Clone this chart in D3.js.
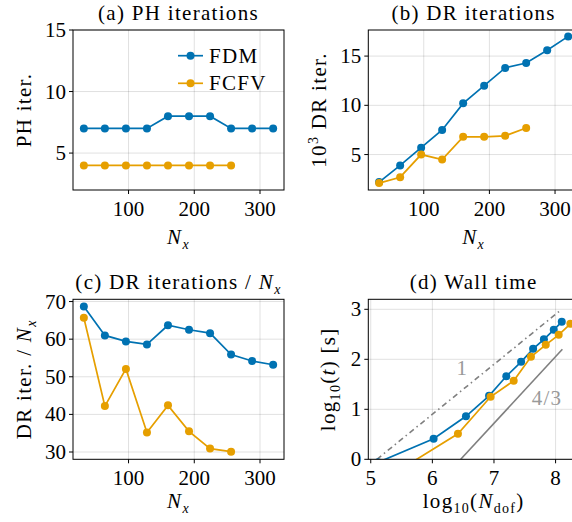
<!DOCTYPE html>
<html>
<head>
<meta charset="utf-8">
<script src="https://cdn.jsdelivr.net/npm/d3@7"></script>
<style>
  body { margin: 0; background: #fff; }
  svg { display: block; }
</style>
</head>
<body>
<div id="chart"></div>
<script>
// --- data ---
const Nx = [32, 64, 96, 128, 160, 192, 224, 256, 288, 320];
const NxFCFV = [32, 64, 96, 128, 160, 192, 224, 256];

const phFDM = [7, 7, 7, 7, 8, 8, 8, 7, 7, 7];
const phFCFV = [4, 4, 4, 4, 4, 4, 4, 4];

const drFDM = [2.2, 3.9, 5.7, 7.5, 10.2, 12.0, 13.8, 14.3, 15.6, 17.0];
const drFCFV = [2.1, 2.7, 5.0, 4.5, 6.8, 6.8, 6.9, 7.7];

const drPerNxFDM = [68.7, 61.0, 59.4, 58.6, 63.7, 62.5, 61.6, 55.9, 54.2, 53.2];
const drPerNxFCFV = [65.7, 42.2, 52.1, 35.2, 42.4, 35.5, 30.9, 30.1];

const logDofFDM = [5.12, 6.02, 6.545, 6.92, 7.20, 7.44, 7.635, 7.81, 7.97, 8.10];
const logTimeFDM = [-0.06, 0.41, 0.86, 1.27, 1.66, 1.95, 2.21, 2.40, 2.59, 2.75];
const logDofFCFV = [5.51, 6.415, 6.945, 7.32, 7.60, 7.84, 8.05, 8.24];
const logTimeFCFV = [-0.18, 0.51, 1.25, 1.57, 2.05, 2.29, 2.49, 2.71];

// reference slopes in (d)
const slope1X = [5.1, 8.1], slope1Y = [0, 3.0];
const slope43X = [6.46, 8.11], slope43Y = [0, 2.2];

const nxTicks = [100, 200, 300];
const phTicks = [5, 10, 15];
const drTicks = [5, 10, 15];
const perNxTicks = [30, 40, 50, 60, 70];
const dofTicks = [5, 6, 7, 8];
const timeTicks = [0, 1, 2, 3];

const BLUE = "#0072B2", ORANGE = "#E69F00";
const FONT = "Liberation Serif";
const FS = 21, SUB = 14, LS = "1.3px";

const svg = d3.select("#chart").append("svg")
    .attr("width", 572).attr("height", 522);

function rich(text, parts) {
    let shift = 0;
    parts.forEach(p => {
        const ts = text.append("tspan").text(p.t);
        const target = p.sub ? 5 : p.sup ? -8 : 0;
        if (target !== shift) { ts.attr("dy", target - shift); shift = target; }
        if (p.sub || p.sup) ts.attr("font-size", SUB);
        if (p.it) ts.attr("font-style", "italic");
    });
    return text;
}

const NxLabel = [{t: "N", it: true}, {t: "x", it: true, sub: true}];

const panels = [
    {id: "a", box: [73, 30, 284, 190], xd: [15.5, 336.5], yd: [2, 15],
     xt: nxTicks, yt: phTicks, title: [{t: "(a) PH iterations"}],
     xl: NxLabel, yl: [{t: "PH iter."}], ylx: 31, tby: 20, xlby: 244,
     series: [[Nx, phFDM, BLUE], [NxFCFV, phFCFV, ORANGE]]},
    {id: "b", box: [368.3, 30, 579, 190], xd: [15.5, 336.5], yd: [1.4, 17.65],
     xt: nxTicks, yt: drTicks, title: [{t: "(b) DR iterations"}],
     xl: NxLabel, yl: [{t: "10"}, {t: "3", sup: true}, {t: " DR iter."}], ylx: 326, tby: 20, xlby: 244,
     series: [[Nx, drFDM, BLUE], [NxFCFV, drFCFV, ORANGE]]},
    {id: "c", box: [73, 299.3, 284, 459.3], xd: [15.5, 336.5], yd: [28.06, 70.6],
     xt: nxTicks, yt: perNxTicks, title: [{t: "(c) DR iterations / "}].concat(NxLabel),
     xl: NxLabel, yl: [{t: "DR iter. / "}].concat(NxLabel), ylx: 31, tby: 289, xlby: 508,
     series: [[Nx, drPerNxFDM, BLUE], [NxFCFV, drPerNxFCFV, ORANGE]]},
    {id: "d", box: [368.3, 299.3, 579, 459.3], xd: [4.96, 8.38], yd: [0, 3.2],
     xt: dofTicks, yt: timeTicks, title: [{t: "(d) Wall time"}],
     xl: [{t: "log"}, {t: "10", sub: true}, {t: "("}, {t: "N", it: true}, {t: "dof", sub: true}, {t: ")"}],
     yl: [{t: "log"}, {t: "10", sub: true}, {t: "("}, {t: "t", it: true}, {t: ") [s]"}], ylx: 335, tby: 289, xlby: 508,
     series: [[logDofFDM, logTimeFDM, BLUE], [logDofFCFV, logTimeFCFV, ORANGE]]}
];

panels.forEach(p => {
    const [x0, y0, x1, y1] = p.box;
    const x = d3.scaleLinear().domain(p.xd).range([x0, x1]);
    const y = d3.scaleLinear().domain(p.yd).range([y1, y0]);
    const g = svg.append("g");

    g.append("clipPath").attr("id", "clip-" + p.id)
        .append("rect").attr("x", x0).attr("y", y0).attr("width", x1 - x0).attr("height", y1 - y0);

    // grid
    g.append("g").selectAll("line").data(p.xt).join("line")
        .attr("x1", d => x(d)).attr("x2", d => x(d)).attr("y1", y0).attr("y2", y1)
        .attr("stroke", "rgba(0,0,0,0.12)");
    g.append("g").selectAll("line").data(p.yt).join("line")
        .attr("x1", x0).attr("x2", x1).attr("y1", d => y(d)).attr("y2", d => y(d))
        .attr("stroke", "rgba(0,0,0,0.12)");

    const plot = g.append("g").attr("clip-path", "url(#clip-" + p.id + ")");

    if (p.id === "d") {
        const ref = d3.line().x(d => x(d[0])).y(d => y(d[1]));
        plot.append("path").attr("d", ref(d3.zip(slope1X, slope1Y)))
            .attr("fill", "none").attr("stroke", "#7f7f7f").attr("stroke-width", 1.6)
            .attr("stroke-dasharray", "5.5,3.5,1.5,3.5");
        plot.append("path").attr("d", ref(d3.zip(slope43X, slope43Y)))
            .attr("fill", "none").attr("stroke", "#7f7f7f").attr("stroke-width", 1.6);
        g.append("text").attr("x", 461.7).attr("y", 375).attr("text-anchor", "middle")
            .attr("font-size", FS).attr("fill", "#999").text("1");
        g.append("text").attr("x", 547).attr("y", 405).attr("text-anchor", "middle")
            .attr("font-size", FS).attr("fill", "#999").attr("letter-spacing", LS).text("4/3");
    }

    const line = d3.line().x(d => x(d[0])).y(d => y(d[1]));
    p.series.forEach(([xs, ys, col]) => {
        const pts = d3.zip(xs, ys);
        plot.append("path").attr("d", line(pts))
            .attr("fill", "none").attr("stroke", col).attr("stroke-width", 1.7);
        plot.append("g").selectAll("circle").data(pts).join("circle")
            .attr("cx", d => x(d[0])).attr("cy", d => y(d[1])).attr("r", 4)
            .attr("fill", col);
    });

    // frame + ticks
    g.append("rect").attr("x", x0).attr("y", y0).attr("width", x1 - x0).attr("height", y1 - y0)
        .attr("fill", "none").attr("stroke", "#000").attr("stroke-width", 1);
    g.append("g").selectAll("line").data(p.xt).join("line")
        .attr("x1", d => x(d)).attr("x2", d => x(d)).attr("y1", y1).attr("y2", y1 + 4)
        .attr("stroke", "#000");
    g.append("g").selectAll("line").data(p.yt).join("line")
        .attr("x1", x0 - 4).attr("x2", x0).attr("y1", d => y(d)).attr("y2", d => y(d))
        .attr("stroke", "#000");

    g.append("g").selectAll("text").data(p.xt).join("text")
        .attr("x", d => x(d)).attr("y", y1 + 26).attr("text-anchor", "middle")
        .attr("font-size", FS).text(d => d);
    g.append("g").selectAll("text").data(p.yt).join("text")
        .attr("x", x0 - 7).attr("y", d => y(d) + 7).attr("text-anchor", "end")
        .attr("font-size", FS).text(d => d);

    rich(g.append("text").attr("x", (x0 + x1) / 2).attr("y", p.tby)
        .attr("text-anchor", "middle").attr("font-size", FS).attr("letter-spacing", LS), p.title);
    rich(g.append("text").attr("x", (x0 + x1) / 2).attr("y", p.xlby)
        .attr("text-anchor", "middle").attr("font-size", FS).attr("letter-spacing", LS), p.xl);
    rich(g.append("text").attr("transform", `translate(${p.ylx},${(y0 + y1) / 2}) rotate(-90)`)
        .attr("text-anchor", "middle").attr("font-size", FS).attr("letter-spacing", LS), p.yl);
});

// legend in (a)
const legend = svg.append("g");
[["FDM", BLUE, 55.7], ["FCFV", ORANGE, 83.3]].forEach(([name, col, ly]) => {
    legend.append("line").attr("x1", 178).attr("x2", 203).attr("y1", ly).attr("y2", ly)
        .attr("stroke", col).attr("stroke-width", 1.7);
    legend.append("circle").attr("cx", 190.5).attr("cy", ly).attr("r", 4).attr("fill", col);
    legend.append("text").attr("x", 209).attr("y", ly + 7).attr("font-size", FS)
        .attr("letter-spacing", LS).text(name);
});

svg.selectAll("text").attr("font-family", FONT);
</script>
</body>
</html>
